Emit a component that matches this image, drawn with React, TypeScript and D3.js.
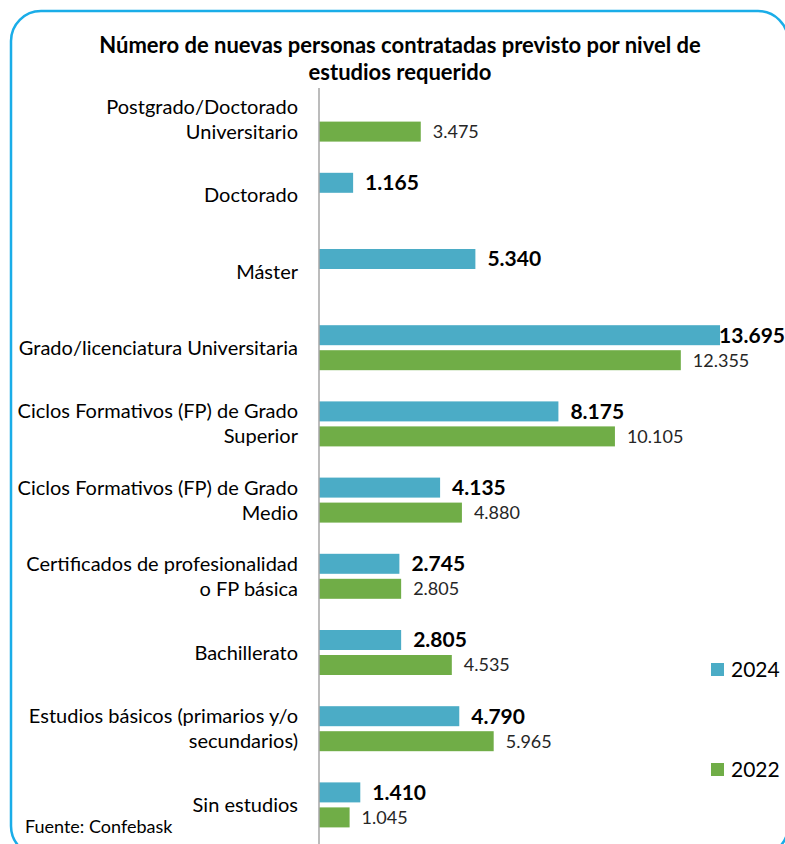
import React from "react";
import * as d3 from "d3";

const categories = [
  "Postgrado/Doctorado\nUniversitario",
  "Doctorado",
  "Máster",
  "Grado/licenciatura Universitaria",
  "Ciclos Formativos (FP) de Grado\nSuperior",
  "Ciclos Formativos (FP) de Grado\nMedio",
  "Certificados de profesionalidad\no FP básica",
  "Bachillerato",
  "Estudios básicos (primarios y/o\nsecundarios)",
  "Sin estudios",
];
const values2024 = [null, 1165, 5340, 13695, 8175, 4135, 2745, 2805, 4790, 1410];
const values2022 = [3475, null, null, 12355, 10105, 4880, 2805, 4535, 5965, 1045];
const seriesNames = ["2024", "2022"];

const titleLines = [
  "Número de nuevas personas contratadas previsto por nivel de",
  "estudios requerido",
];

const width = 785;
const height = 844;
const font = "Lato, 'Noto Sans', sans-serif";
const colors: Record<string, string> = { "2024": "#4BACC6", "2022": "#70AD47" };

const fmt = d3.formatLocale({
  decimal: ",",
  thousands: ".",
  grouping: [3],
  currency: ["", "€"],
}).format(",d");

export default function App() {
  const x = d3.scaleLinear().domain([0, 14000]).range([319, 729]);
  const y = d3.scaleBand<string>().domain(categories).range([81, 843]);
  const inner = d3.scaleBand<string>().domain(seriesNames).range([-22.5, 22.5]).paddingInner(0.2);

  const series = [
    { name: "2024", values: values2024 },
    { name: "2022", values: values2022 },
  ];

  return (
    <svg width={width} height={height} style={{ display: "block", position: "absolute", left: 0, top: 0 }}>
      <rect x={0} y={0} width={width} height={height} fill="#fff" />
      <rect x={11} y={11} width={777} height={845} rx={30} ry={30} fill="none" stroke="#1AADE8" strokeWidth={2.5} />

      {titleLines.map((t, i) => (
        <text key={i} x={400} y={45 + i * 27} dy="0.35em" textAnchor="middle" fontFamily={font} fontWeight="bold" fontSize={22} fill="#000">
          {t}
        </text>
      ))}

      {categories.map((c, i) => {
        const cy = (y(c) ?? 0) + y.bandwidth() / 2;
        const lines = c.split("\n");
        const lh = 25;
        const y0 = cy - ((lines.length - 1) * lh) / 2;
        return (
          <g key={c}>
            {lines.map((l, j) => (
              <text key={j} x={298} y={y0 + j * lh} dy="0.35em" textAnchor="end" fontFamily={font} fontSize={20} fill="#000">
                {l}
              </text>
            ))}
            {series.map((s) => {
              const v = s.values[i];
              if (v == null) return null;
              const by = cy + (inner(s.name) ?? 0);
              const bh = inner.bandwidth();
              const bold = s.name === "2024";
              let lx = x(v) + 12;
              let anchor = "start";
              if (lx + 66 > width) {
                lx = width;
                anchor = "end";
              }
              return (
                <g key={s.name}>
                  <rect x={x(0)} y={by} width={x(v) - x(0)} height={bh} fill={colors[s.name]} />
                  <text
                    x={lx}
                    y={by + bh / 2}
                    dy="0.35em"
                    textAnchor={anchor}
                    fontFamily={font}
                    fontSize={bold ? 21 : 18}
                    fontWeight={bold ? "bold" : "normal"}
                    fill={bold ? "#000" : "#262626"}
                  >
                    {fmt(v)}
                  </text>
                </g>
              );
            })}
          </g>
        );
      })}

      <line x1={x(0)} x2={x(0)} y1={88} y2={height} stroke="#A6A6A6" strokeWidth={1.5} />

      {seriesNames.map((s, i) => (
        <g key={s} transform={`translate(711, ${663 + i * 100})`}>
          <rect x={0} y={0} width={13} height={13} fill={colors[s]} />
          <text x={20} y={6.5} dy="0.35em" fontFamily={font} fontSize={21} fill="#000">
            {s}
          </text>
        </g>
      ))}

      <text x={25} y={833} fontFamily={font} fontSize={18} fill="#000">
        Fuente: Confebask
      </text>
    </svg>
  );
}
